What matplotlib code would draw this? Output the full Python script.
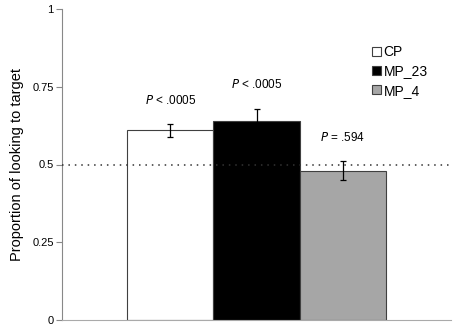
import matplotlib
matplotlib.use('Agg')
import matplotlib.pyplot as plt

plt.rcParams['font.family'] = ['Liberation Sans', 'DejaVu Sans']

groups = ['CP', 'MP_23', 'MP_4']
means = [0.61, 0.64, 0.48]
errors = [0.02, 0.04, 0.03]
colors = ['white', 'black', '#a6a6a6']
p_labels = ['< .0005', '< .0005', '= .594']
yticks = [0, 0.25, 0.5, 0.75, 1]
ytick_labels = ['0', '0.25', '0.5', '0.75', '1']

fig = plt.figure(figsize=(4.59, 3.34), dpi=100)
ax = fig.add_axes([62 / 459, 14 / 334, 389 / 459, 311 / 334])

xs = [-1, 0, 1]
for x, m, e, c, g in zip(xs, means, errors, colors, groups):
    ax.bar(x, m, width=1.0, color=c, edgecolor='#404040', linewidth=0.8, label=g)
    ax.errorbar(x, m, yerr=e, fmt='none', ecolor='#000000', elinewidth=0.9,
                capsize=2.5, capthick=0.9)

# significance labels above each bar
for x, m, e, p in zip(xs, means, errors, p_labels):
    ax.text(x, m + e + 0.055, '$P$ ' + p, ha='center', va='bottom', fontsize=8.5)

ax.axhline(0.5, color='#333333', linestyle=(0, (1, 3.2)), linewidth=1.1, zorder=3)

ax.set_xlim(-2.26, 2.26)
ax.set_ylim(0, 1)
ax.set_yticks(yticks)
ax.set_yticklabels(ytick_labels, fontsize=8)
ax.set_xticks([])
ax.set_ylabel('Proportion of looking to target', fontsize=10.5, labelpad=6)

for s in ['top', 'right']:
    ax.spines[s].set_visible(False)
ax.spines['left'].set_color('#888888')
ax.spines['bottom'].set_color('#aaaaaa')
ax.tick_params(axis='y', color='#888888', length=4, width=0.8, pad=2)

ax.legend(loc='upper left', bbox_to_anchor=(0.78, 0.906), frameon=False,
          fontsize=10, handlelength=0.6, handleheight=0.6, handletextpad=0.2,
          labelspacing=0.38, borderpad=0)

fig.savefig('out.png', dpi=100)
